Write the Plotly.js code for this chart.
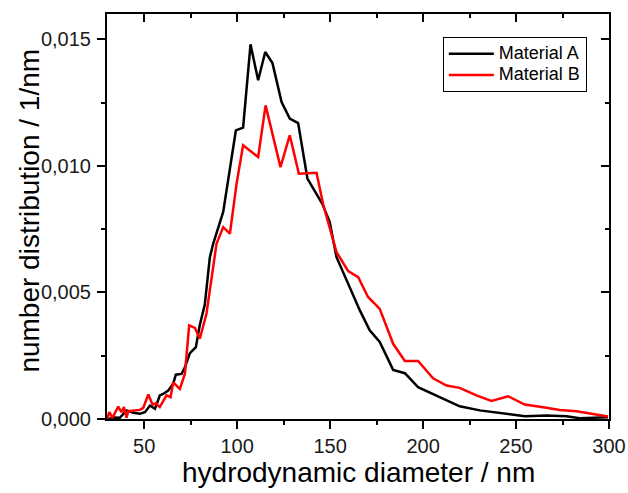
<!DOCTYPE html>
<html>
<head>
<meta charset="utf-8">
<script src="https://cdn.plot.ly/plotly-3.0.1.min.js"></script>
<style>html,body{margin:0;padding:0;background:#fff;}#chart{width:628px;height:493px;}</style>
</head>
<body>
<div id="chart"></div>
<script>
// Material A (black)
const diamA = [30.5, 31.6, 34.0, 36.9, 40.5, 44.1, 47.7, 50.4, 53.1, 55.8, 58.4, 60.2, 62.9, 65.6, 67.0, 70.1, 71.9, 74.6, 77.8, 79.9, 82.6, 85.3, 87.1, 90.7, 92.5, 99.3, 103.2, 107.2, 111.3, 115.1, 119.0, 123.9, 128.3, 132.8, 137.8, 145.8, 149.8, 153.4, 159.7, 166.0, 171.3, 176.7, 183.9, 190.2, 197.3, 207.2, 219.7, 230.5, 246.6, 254.7, 266.3, 277.1, 284.2, 299.5];
const distA = [0.00003, 0.00001, 0.00006, 0.00005, 0.00034, 0.00025, 0.00021, 0.00027, 0.00053, 0.00040, 0.00093, 0.00099, 0.00112, 0.00139, 0.00175, 0.00178, 0.00204, 0.00260, 0.00284, 0.00371, 0.00452, 0.00638, 0.00692, 0.00780, 0.00818, 0.01140, 0.01151, 0.01480, 0.01338, 0.01450, 0.01406, 0.01252, 0.01187, 0.01169, 0.00950, 0.00850, 0.00778, 0.00640, 0.00534, 0.00429, 0.00350, 0.00304, 0.00194, 0.00181, 0.00126, 0.00093, 0.00050, 0.00034, 0.00020, 0.00011, 0.00014, 0.00011, 0.00003, 0.00007];
// Material B (red)
const diamB = [30.1, 31.2, 33.0, 36.0, 37.8, 39.1, 40.5, 41.4, 47.7, 49.5, 52.2, 54.5, 56.3, 58.4, 62.0, 64.2, 65.6, 69.2, 71.9, 74.2, 77.3, 79.9, 83.5, 86.2, 88.9, 92.5, 96.1, 99.7, 103.2, 111.3, 115.3, 123.3, 128.3, 133.2, 142.7, 146.2, 153.4, 159.7, 165.1, 170.4, 176.7, 183.9, 190.2, 197.3, 205.4, 212.6, 219.7, 228.7, 236.8, 245.7, 254.7, 266.3, 273.5, 282.5, 299.5];
const distB = [0.00000, 0.00027, 0.00005, 0.00049, 0.00027, 0.00047, 0.00005, 0.00031, 0.00036, 0.00044, 0.00097, 0.00057, 0.00062, 0.00047, 0.00093, 0.00086, 0.00145, 0.00119, 0.00179, 0.00370, 0.00360, 0.00317, 0.00416, 0.00560, 0.00692, 0.00758, 0.00732, 0.00930, 0.01081, 0.01035, 0.01239, 0.00995, 0.01121, 0.00969, 0.00973, 0.00850, 0.00660, 0.00584, 0.00560, 0.00482, 0.00435, 0.00297, 0.00229, 0.00229, 0.00161, 0.00132, 0.00123, 0.00093, 0.00071, 0.00090, 0.00057, 0.00044, 0.00036, 0.00031, 0.00010];

const seriesNames = ['Material A', 'Material B'];
const xTitle = 'hydrodynamic diameter / nm';
const yTitle = 'number distribution / 1/nm';
const xTicks = [50, 100, 150, 200, 250, 300];
const yTicks = [0, 0.005, 0.010, 0.015];

const FONT = 'Liberation Sans, Arial, sans-serif';
const legendLabel = (s) => '<span style="font-size:18px">' + s + '</span>';

const traces = [
  {x: diamA, y: distA, type: 'scatter', mode: 'lines', name: legendLabel(seriesNames[0]),
   line: {color: '#000000', width: 2.5}},
  {x: diamB, y: distB, type: 'scatter', mode: 'lines', name: legendLabel(seriesNames[1]),
   line: {color: '#ff0000', width: 2.5}},
  {x: [], y: [], type: 'scatter', mode: 'lines', xaxis: 'x2', yaxis: 'y2',
   showlegend: false, hoverinfo: 'skip'}
];

const layout = {
  width: 628, height: 493,
  margin: {l: 107, r: 19, t: 14, b: 74},
  paper_bgcolor: '#ffffff', plot_bgcolor: '#ffffff',
  separators: ',.',
  font: {family: FONT, color: '#000'},
  showlegend: true,
  legend: {
    x: 0.669, y: 0.943, xanchor: 'left', yanchor: 'top',
    bgcolor: '#ffffff', bordercolor: '#000', borderwidth: 1,
    font: {family: FONT, size: 14, color: '#000'},
    itemwidth: 45,
    tracegroupgap: 0
  },
  xaxis: {
    range: [30, 300], tickvals: xTicks, ticks: 'outside', ticklen: 8, tickwidth: 2,
    tickcolor: '#000', showline: true, linewidth: 2, linecolor: '#000',
    showgrid: false, zeroline: false, mirror: true,
    tickfont: {family: FONT, size: 20, color: '#1a1a1a'},
    minor: {dtick: 25, tick0: 0, ticks: 'outside', ticklen: 4, tickwidth: 2, tickcolor: '#000', showgrid: false}
  },
  yaxis: {
    range: [0, 0.016], tickvals: yTicks, tickformat: '.3f', ticks: 'outside', ticklen: 8, tickwidth: 2,
    tickcolor: '#000', showline: true, linewidth: 2, linecolor: '#000',
    showgrid: false, zeroline: false, mirror: true,
    ticklabelstandoff: 2,
    tickfont: {family: FONT, size: 20, color: '#1a1a1a'},
    minor: {dtick: 0.0025, tick0: 0, ticks: 'outside', ticklen: 4, tickwidth: 2, tickcolor: '#000', showgrid: false}
  },
  xaxis2: {
    overlaying: 'x', side: 'top', range: [30, 300], tickvals: xTicks, ticks: 'inside', ticklen: 8, tickwidth: 2,
    tickcolor: '#000', showticklabels: false, showgrid: false, zeroline: false, showline: false,
    minor: {dtick: 25, tick0: 0, ticks: 'inside', ticklen: 4, tickwidth: 2, tickcolor: '#000', showgrid: false}
  },
  yaxis2: {
    overlaying: 'y', side: 'right', range: [0, 0.016], tickvals: yTicks, ticks: 'inside', ticklen: 8, tickwidth: 2,
    tickcolor: '#000', showticklabels: false, showgrid: false, zeroline: false, showline: false,
    minor: {dtick: 0.0025, tick0: 0, ticks: 'inside', ticklen: 4, tickwidth: 2, tickcolor: '#000', showgrid: false}
  },
  annotations: [
    {text: xTitle, xref: 'paper', yref: 'paper', x: 0.5, y: -0.133, xanchor: 'center', yanchor: 'middle',
     borderpad: 0, showarrow: false, font: {family: FONT, size: 28, color: '#000'}},
    {text: yTitle, xref: 'paper', yref: 'paper', x: -0.155, y: 0.515, xanchor: 'center', yanchor: 'middle',
     borderpad: 0, textangle: -90, showarrow: false, font: {family: FONT, size: 28, color: '#000'}}
  ]
};

Plotly.newPlot('chart', traces, layout, {displayModeBar: false, staticPlot: true});
</script>
</body>
</html>
